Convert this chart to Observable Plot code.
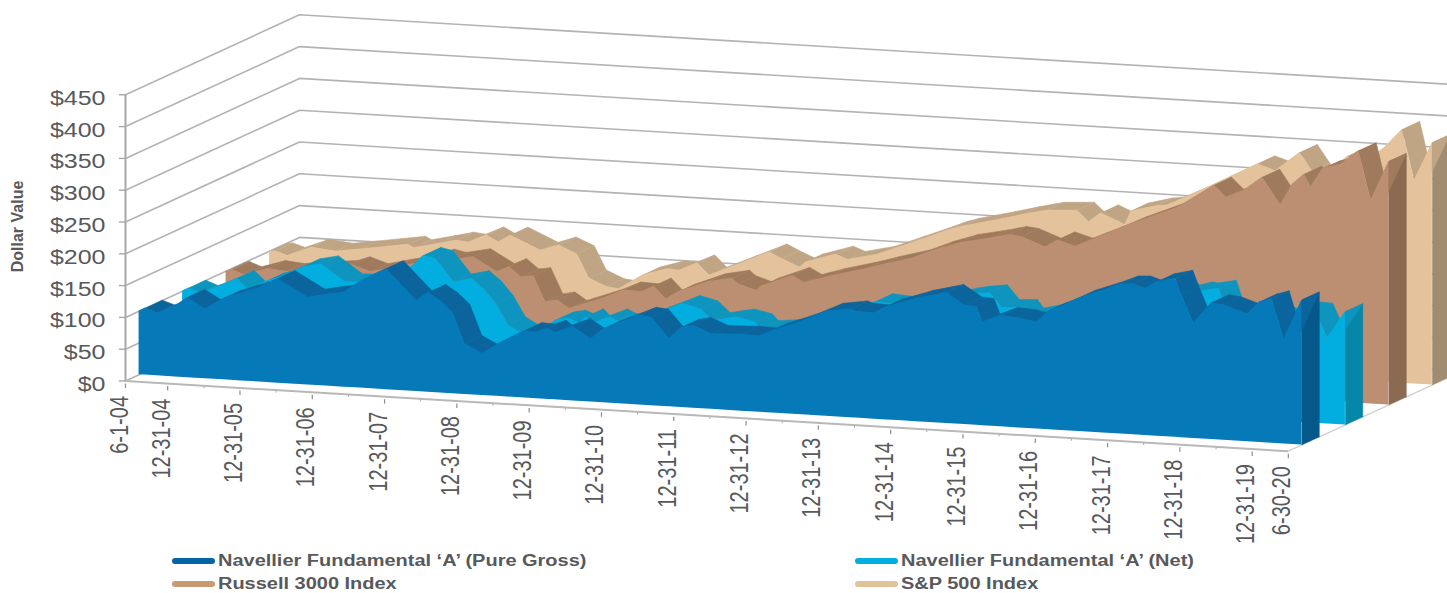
<!DOCTYPE html>
<html><head><meta charset="utf-8">
<script src="https://cdn.jsdelivr.net/npm/d3@7"></script>
<script src="https://cdn.jsdelivr.net/npm/@observablehq/plot@0.6"></script>
<style>
html,body{margin:0;padding:0;background:#fff;overflow:hidden;width:1447px;height:593px}
#legend{position:relative;height:45px;font:bold 16px "Liberation Sans",sans-serif;color:#58595b}
.item{position:absolute;height:18px;line-height:18px;white-space:nowrap}
.sw{position:absolute;left:0;top:6px;width:43px;height:6px;border-radius:3px}
.lb{position:absolute;left:46px;top:0;transform:scaleX(1.248);transform-origin:left center}
</style></head><body>
<div id="chart"></div><div id="legend"></div>
<script>
const grossMonths=[0,1,3,6,8,11,14,17,20,23,28,31,34,36,38,41,46,48,50,52,54,57,60,64,66,68,69,72,75,77,83,85,88,90,92,95,100,103,105,110,112,114,118,119,122,124,126,129,134,137,139,140,143,146,149,151,153,156,160,163,165,167,169,172,173,175,178,180,184,186,188,190,193];
const grossValues=[100,105,99,111,126,110,128,138,149,164,138,144,149,163,175,190,143,157,145,128,80,66,85,106,105,112,105,117,99,116,141,139,107,126,130,119,121,120,129,147,156,165,171,168,167,178,184,194,206,188,187,163,175,173,168,187,195,210,224,236,237,231,243,250,225,181,215,213,201,221,227,164,228];
const netMonths=[0,1,3,6,9,11,14,17,20,23,27,31,34,36,38,40,42,45,48,50,52,54,57,60,62,64,66,67,68,71,72,75,78,83,86,88,90,92,95,96,100,103,105,110,112,115,118,119,122,124,126,129,131,134,136,139,140,143,146,149,151,153,156,160,163,165,166,168,169,172,173,175,178,180,184,186,188,190,193];
const netValues=[100,105,98,110,125,108,124,133,150,156,130,132,136,150,160,179,175,140,147,132,110,78,62,76,90,94,87,98,88,100,95,88,107,128,121,104,108,112,106,96,100,103,110,128,133,149,147,146,145,152,158,166,170,174,152,154,141,148,146,142,158,165,177,188,198,198,192,198,197,203,175,145,172,170,160,177,176,135,178];
const russellMonths=[0,1,3,7,10,14,19,21,24,28,32,35,37,41,45,47,49,51,53,55,57,63,66,69,71,73,75,80,84,85,88,89,94,96,100,106,109,114,118,122,127,130,132,136,138,141,146,150,158,164,166,169,172,175,177,179,180,182,185,188,190,193];
const russellValues=[100,103,96,108,105,110,115,122,113,122,131,142,138,146,125,134,119,122,82,86,74,95,108,107,117,98,110,129,137,129,120,128,147,137,149,164,173,186,202,215,225,232,230,216,228,220,241,259,291,329,311,324,346,304,338,355,335,365,374,397,320,383];
const spMonths=[0,1,3,7,11,15,19,23,24,28,31,33,36,38,40,45,48,51,53,56,58,62,66,68,71,73,78,83,85,88,89,94,96,101,106,110,113,115,121,125,129,134,136,138,142,143,147,149,153,164,167,171,173,175,177,179,180,182,185,188,190,193];
const spValues=[100,101,95,110,106,112,118,124,119,128,135,133,146,136,148,127,137,125,88,76,74,98,110,109,122,104,125,146,137,125,134,149,142,153,172,187,199,205,219,229,238,241,224,239,223,245,255,258,276,331,322,353,326,300,335,352,335,345,368,399,320,381];
const seriesNames=["Navellier Fundamental ‘A’ (Pure Gross)","Navellier Fundamental ‘A’ (Net)","Russell 3000 Index","S&P 500 Index"];
const dollarTicks=[0,50,100,150,200,250,300,350,400,450];
const dateLabels=["6-1-04","12-31-04","12-31-05","12-31-06","12-31-07","12-31-08","12-31-09","12-31-10","12-31-11","12-31-12","12-31-13","12-31-14","12-31-15","12-31-16","12-31-17","12-31-18","12-31-19","6-30-20"];
const dateMonths=[0,7,19,31,43,55,67,79,91,103,115,127,139,151,163,175,187,193];
const minorMonths=[13,25,37,49,61,73,85,97,109,121,133,145,157,169,181];
const palette={gross:["#0679b9","#0b659c","#05598a"],net:["#02aee0","#0e95bf","#0787a8"],russell:["#bc8f72","#a07a5c","#8a6a50"],sp:["#e3c29c","#bfa583","#a08c70"]};
const legendColors=["#0364a6","#02aee0","#c89a72","#e0c39a"];

/* oblique projection of (month, dollars, depth 0..1) into the plot's x / y units */
const pxPerMonth=6.025,pxPerDollar=0.636,originX=125,originY=380.5,H=548;
const zX=174/pxPerMonth,zY=80/pxPerDollar,tilt=0.0604*pxPerMonth/pxPerDollar;
const X=(m,z)=>m+z*zX, Y=(m,v,z)=>v-tilt*m+z*zY;
const ribbon=0.1;
function seriesMarks(months,values,z0,colors){
  const z1=z0+ribbon,n=months.length,facets=[];
  for(let i=0;i<n-1;i++){
    const a=months[i],b=months[i+1],u=values[i],w=values[i+1];
    [[a,u,z0],[b,w,z0],[b,w,z1],[a,u,z1]].forEach(([m,v,z])=>facets.push({id:i,x:X(m,z),y:Y(m,v,z)}));
  }
  const end=months[n-1],top=values[n-1];
  const side=[[end,0,z0],[end,top,z0],[end,top,z1],[end,0,z1]].map(([m,v,z])=>({x:X(m,z),y:Y(m,v,z)}));
  const front=months.map((m,i)=>({x:X(m,z0),y1:Y(m,0,z0),y2:Y(m,values[i],z0)}));
  return [
    Plot.line(side,{x:"x",y:"y",fill:colors[2],stroke:colors[2],strokeWidth:0.5}),
    Plot.line(facets,{x:"x",y:"y",z:"id",fill:colors[1],stroke:colors[1],strokeWidth:0.6}),
    Plot.area(front,{x1:"x",y1:"y1",y2:"y2",fill:colors[0]})
  ];
}
const grid=dollarTicks.flatMap(v=>[[0,0],[0,1],[260,1]].map(([m,z])=>({v,x:X(m,z),y:Y(m,v,z)})));
const axisY=m=>Y(m,0,0);
const endM=193;
const chart=Plot.plot({
  width:1447,height:H,margin:0,
  x:{domain:[-originX/pxPerMonth,(1447-originX)/pxPerMonth],range:[0,1447],axis:null},
  y:{domain:[(originY-H)/pxPerDollar,originY/pxPerDollar],range:[H,0],axis:null},
  style:{background:"#fff",overflow:"hidden"},
  marks:[
    Plot.line(grid,{x:"x",y:"y",z:"v",stroke:"#b3b3b3",strokeWidth:1.6}),
    Plot.link([0],{x1:X(endM,0),y1:axisY(endM),x2:X(endM,1),y2:Y(endM,0,1),stroke:"#d0d0d0",strokeWidth:1.4}),
    Plot.link([0],{x1:0,y1:0,x2:0,y2:450,stroke:"#a8a8a8",strokeWidth:2}),
    Plot.link(dollarTicks,{x1:-1.1,x2:0,y1:d=>d,y2:d=>d,stroke:"#a8a8a8",strokeWidth:1.4}),
    ...seriesMarks(spMonths,spValues,0.828,palette.sp),
    ...seriesMarks(russellMonths,russellValues,0.578,palette.russell),
    ...seriesMarks(netMonths,netValues,0.328,palette.net),
    ...seriesMarks(grossMonths,grossValues,0.078,palette.gross),
    Plot.link([0],{x1:0,y1:0,x2:endM,y2:axisY(endM),stroke:"#b8b8b8",strokeWidth:2}),
    Plot.link(dateMonths,{x1:d=>d,x2:d=>d,y1:d=>axisY(d)-4,y2:d=>axisY(d)-11,stroke:"#8c8c8c",strokeWidth:1.2}),
    Plot.link(minorMonths,{x1:d=>d,x2:d=>d,y1:d=>axisY(d)-1,y2:d=>axisY(d)-4,stroke:"#a8a8a8",strokeWidth:1}),
    Plot.text(dollarTicks,{x:0,y:d=>d,text:d=>"$"+d,textAnchor:"end",dx:-20,dy:3.5,fontSize:20,fill:"#58595b",fontFamily:"Liberation Sans",className:"stretch"}),
    Plot.text(dateMonths,{x:d=>d,y:d=>axisY(d),text:(d,i)=>dateLabels[i],rotate:-90,textAnchor:"end",dx:-6,dy:15,fontSize:20,fill:"#58595b",fontFamily:"Liberation Sans",className:"stretch"}),
    Plot.text(["Dollar Value"],{x:-17.8,y:243,text:d=>d,rotate:-90,textAnchor:"middle",fontSize:16,fontWeight:"bold",fill:"#58595b",fontFamily:"Liberation Sans"})
  ]
});
chart.querySelectorAll(".stretch text").forEach(t=>{
  const tr=t.getAttribute("transform");
  if(tr) t.setAttribute("transform",tr.replace(")",") scale(1.25,1)"));
});
document.getElementById("chart").appendChild(chart);
chart.style.display="block";
const lg=document.getElementById("legend");
[[172,4],[855,4],[172,27],[855,27]].forEach(([l,t],i)=>{
  const d=document.createElement("div");d.className="item";d.style.left=l+"px";d.style.top=t+"px";d.style.width="500px";
  d.innerHTML='<span class="sw" style="background:'+legendColors[i]+'"></span><span class="lb"></span>';
  d.querySelector(".lb").textContent=seriesNames[i];lg.appendChild(d);
});
</script></body></html>
